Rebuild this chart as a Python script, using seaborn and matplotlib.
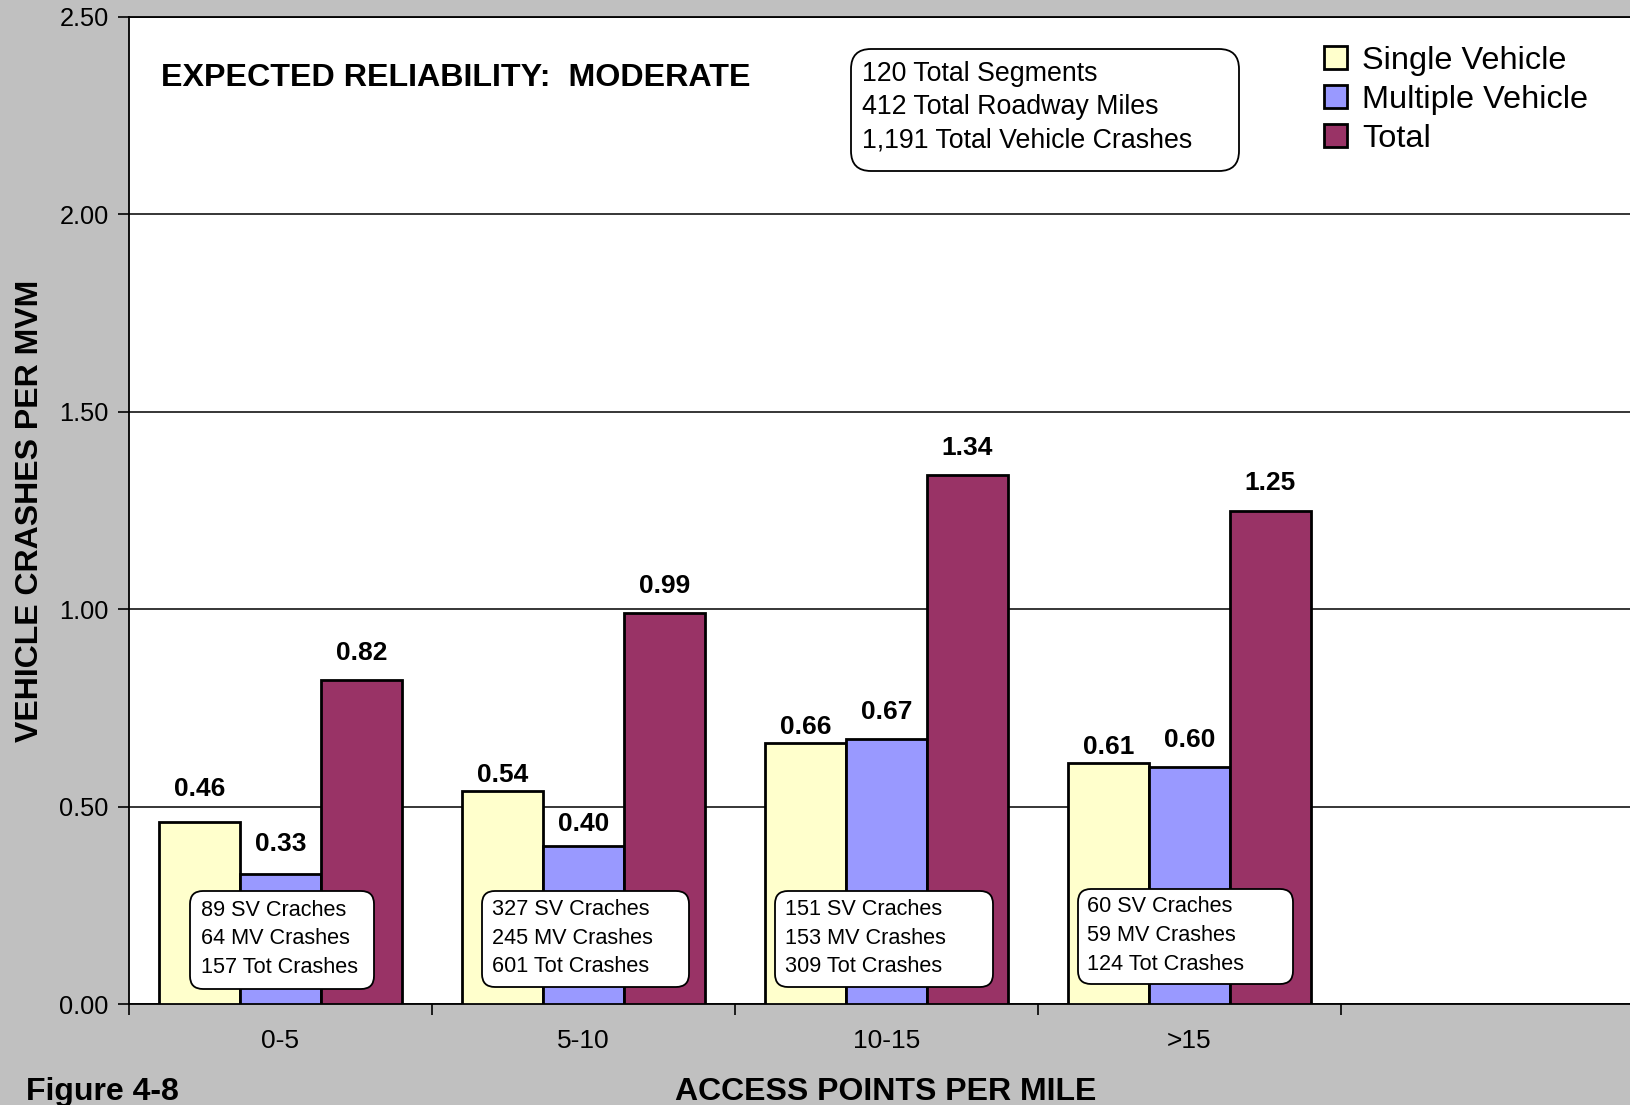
import matplotlib
matplotlib.use("Agg")
import matplotlib.pyplot as plt
from matplotlib.patches import FancyBboxPatch
from matplotlib.ticker import FixedLocator
from matplotlib.transforms import Affine2D
import numpy as np
import pandas as pd
import seaborn as sns

# Crash rates per million vehicle miles by access-point density
categories = ["0-5", "5-10", "10-15", ">15"]
single_vehicle = [0.46, 0.54, 0.66, 0.61]
multiple_vehicle = [0.33, 0.40, 0.67, 0.60]
total = [0.82, 0.99, 1.34, 1.25]

# Crash counts shown in each group's note
sv_crashes = [89, 327, 151, 60]
mv_crashes = [64, 245, 153, 59]
tot_crashes = [157, 601, 309, 124]

series_names = ["Single Vehicle", "Multiple Vehicle", "Total"]
y_ticks = [0.0, 0.5, 1.0, 1.5, 2.0, 2.5]

summary_lines = ["120 Total Segments", "412 Total Roadway Miles",
                 "1,191 Total Vehicle Crashes"]
title_text = "EXPECTED RELIABILITY:  MODERATE"

df = pd.DataFrame({
    "category": categories * 3,
    "series": [s for s in series_names for _ in categories],
    "value": single_vehicle + multiple_vehicle + total,
})

sns.set_theme(style="white")
plt.rcParams["font.family"] = ["Liberation Sans", "DejaVu Sans"]
plt.rcParams["text.color"] = "black"

W, H = 1631, 1105
fig = plt.figure(figsize=(W / 100, H / 100), dpi=100, facecolor="#C0C0C0")
ax = fig.add_axes([129 / W, 1 - 1004 / H, (W - 129) / W, (1004 - 17) / H])
ax.set_facecolor("white")

# pixel coordinates measured from the bottom-left corner of the figure
px = Affine2D().scale(1 / W, 1 / H) + fig.transFigure

palette = {"Single Vehicle": "#FFFFCC", "Multiple Vehicle": "#9999FF", "Total": "#993366"}
sns.barplot(data=df, x="category", y="value", hue="series", order=categories,
            hue_order=series_names, palette=palette, saturation=1,
            edgecolor="black", linewidth=2, errorbar=None, width=0.8, ax=ax,
            zorder=3)

# Value labels above every bar (some nudged so they clear their neighbours)
label_padding = [[15.5, 3, 3, 3], [12.5, 7.5, 11, 11], [11, 11, 11, 11]]
for cont, pads in zip(ax.containers, label_padding):
    for bar, pad in zip(cont, pads):
        ax.annotate(f"{bar.get_height():.2f}",
                    (bar.get_x() + bar.get_width() / 2, bar.get_height()),
                    xytext=(0, pad), textcoords="offset points", ha="center",
                    va="bottom", fontsize=19, fontweight="bold", color="black",
                    zorder=5)

ax.set_xlim(-0.5, (W - 129) / 303 - 0.5)
ax.set_ylim(0, 2.5)
ax.set_yticks(y_ticks)
ax.set_yticklabels([f"{v:.2f}" for v in y_ticks])
ax.yaxis.grid(True, color="black", linewidth=1.1)
ax.set_axisbelow(True)

# Category labels at group centres, tick marks at group boundaries
ax.set_xticks(range(len(categories)))
ax.set_xticklabels(categories)
ax.xaxis.set_minor_locator(FixedLocator(np.arange(-0.5, len(categories) + 0.5, 1.0)))
ax.tick_params(axis="x", which="major", length=0, pad=18, labelsize=19, colors="black")
ax.tick_params(axis="x", which="minor", length=8, width=1.2, color="black",
               direction="out", bottom=True)
ax.tick_params(axis="y", which="major", length=8, width=1.2, color="black",
               direction="out", pad=6.5, labelsize=18.3, labelcolor="black", left=True)

for side in ["left", "bottom", "top"]:
    ax.spines[side].set_visible(True)
    ax.spines[side].set_color("black")
    ax.spines[side].set_linewidth(1.3)
ax.spines["right"].set_visible(False)

ax.set_ylabel("VEHICLE CRASHES PER MVM", fontsize=23, fontweight="bold", color="black",
              va="center")
ax.yaxis.set_label_coords(-0.066, 0.5)
ax.set_xlabel("ACCESS POINTS PER MILE", fontsize=23, fontweight="bold", color="black")
ax.xaxis.set_label_coords(0.504, -0.0743)
fig.text(26 / W, 1 - 1077 / H, "Figure 4-8", fontsize=23, fontweight="bold",
         ha="left", va="top", color="black")

# Heading inside the plot area
ax.text(0.0213, 0.938, title_text, transform=ax.transAxes, fontsize=23.2,
        fontweight="bold", ha="left", va="center", color="black")


def rounded_box(x0, top, x1, bottom, radius):
    """White rounded box; coordinates in pixels from the top-left corner."""
    patch = FancyBboxPatch((x0, H - bottom), x1 - x0, bottom - top,
                           boxstyle=f"round,pad=0,rounding_size={radius}",
                           transform=px, facecolor="white", edgecolor="black",
                           linewidth=1.3, zorder=6)
    fig.patches.append(patch)


# Summary box
rounded_box(851, 49, 1239, 171, 20)
fig.text(862, H - 107, "\n".join(summary_lines), transform=px, fontsize=19.3,
         ha="left", va="center", linespacing=1.36, color="black", zorder=7)

# Crash-count notes inside each group
note_boxes = [(190, 891, 374, 989), (482, 891, 689, 987),
              (775, 891, 993, 987), (1078, 889, 1293, 984)]
note_text_x = [201, 492, 785, 1087]
for i, cat in enumerate(categories):
    x0, top, x1, bottom = note_boxes[i]
    rounded_box(x0, top, x1, bottom, 13)
    note = f"{sv_crashes[i]} SV Craches\n{mv_crashes[i]} MV Crashes\n{tot_crashes[i]} Tot Crashes"
    fig.text(note_text_x[i], H - ((top + bottom) / 2 - 1), note, transform=px,
             fontsize=15.6, ha="left", va="center", linespacing=1.47,
             color="black", zorder=7)

# Legend
handles, labels = ax.get_legend_handles_labels()
ax.legend(handles, labels, loc="upper left", bbox_to_anchor=(1324 / W, 1 - 46 / H),
          bbox_transform=fig.transFigure, frameon=False, fontsize=23.4,
          labelcolor="black", handlelength=0.72, handleheight=0.7,
          handletextpad=0.45, labelspacing=0.27, borderpad=0, borderaxespad=0)

fig.savefig("out.png", dpi=100, facecolor=fig.get_facecolor())
